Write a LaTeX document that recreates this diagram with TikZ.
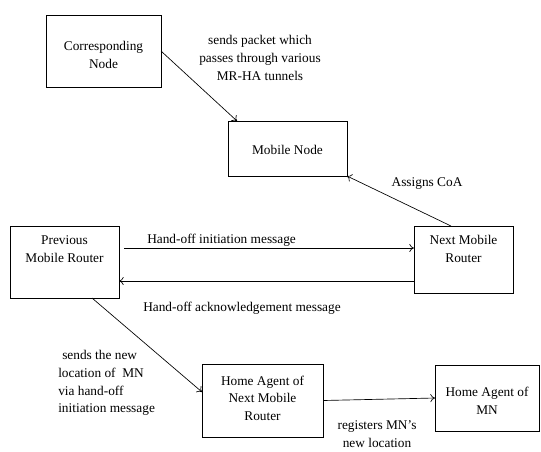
\documentclass[tikz,border=0pt]{standalone}
\usepackage{fontspec}
\setmainfont{Liberation Serif}
\usetikzlibrary{calc,arrows.meta}
\begin{document}
\begin{tikzpicture}[x=0.75pt,y=-0.75pt,
  box/.style={draw, line width=0.6pt, inner sep=0pt, outer sep=0pt},
  txt/.style={align=center, font=\fontsize{10}{13.2}\selectfont, inner sep=0pt},
  conn/.style={line width=0.5pt, -{To[length=3.5pt,width=6pt]}}]
\useasboundingbox (0,0) rectangle (541,451);
% boxes
\node[box, minimum width=86.25pt, minimum height=54pt] (cn) at (103.5,51) {};
\node[box, minimum width=89.25pt, minimum height=41.25pt] (mn) at (287.5,148.5) {};
\node[box, minimum width=81.75pt, minimum height=54pt] (pmr) at (64.5,262) {};
\node[box, minimum width=74.25pt, minimum height=50.25pt] (nmr) at (463.5,259.5) {};
\node[box, minimum width=90.75pt, minimum height=54.75pt] (hanmr) at (262.5,400.5) {};
\node[box, minimum width=78pt, minimum height=49.5pt] (hamn) at (487,398) {};
% box texts
\node[txt] (cnt) at (103.5,55) {Corresponding\\Node};
\node[txt] (mnt) at (287.5,150) {Mobile Node};
\node[txt] (pmrt) at (64.5,249) {Previous\\Mobile Router};
\node[txt] (nmrt) at (463.5,249) {Next Mobile\\Router};
\node[txt] (hanmrt) at (262.5,398) {Home Agent of\\Next Mobile\\Router};
\node[txt] (hamnt) at (487,401) {Home Agent of\\MN};
% labels
\node[txt] (l1) at (260,58) {sends packet which\\passes through various\\MR-HA tunnels};
\node[txt] (l2) at (427,184) {Assigns CoA};
\node[txt, anchor=west] (l3) at (147,240) {Hand-off initiation message};
\node[txt, anchor=west] (l4) at (143,308) {Hand-off acknowledgement message};
\node[txt, align=left, anchor=west] (l5) at (58,383) {\hspace*{3pt}sends the new\\location of \ MN\\via hand-off\\initiation message};
\node[txt] (l6) at (377,434) {registers MN’s\\new location};
% connectors
\coordinate (h1) at (124,248);
\coordinate (h2) at (300,281);
\draw[conn] (cn.east) -- ($(mn.north west)+(9,0)$);
\draw[conn] ($(nmr.north)+(-12.5,0)$) -- (mn.south east);
\draw[conn] (h1) -- (h1 -| nmr.west);
\draw[conn] (h2 -| nmr.west) -- (h2 -| pmr.east);
\draw[conn] ($(pmr.south)+(27.5,0)$) -- ($(hanmr.west)+(0,-8.5)$);
\draw[conn] (hanmr.east) -- (hamn.west);
\end{tikzpicture}
\end{document}
